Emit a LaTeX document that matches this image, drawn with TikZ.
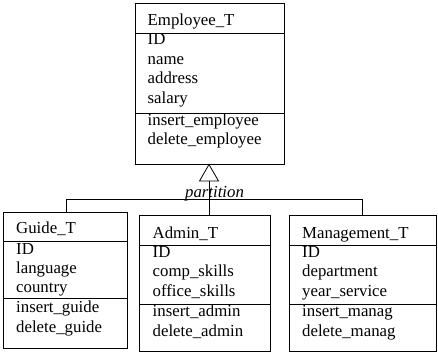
\documentclass[tikz,border=0pt]{standalone}
\usepackage{fontspec}
\setmainfont{Liberation Serif}
\usetikzlibrary{calc}
\begin{document}
\begin{tikzpicture}[x=1pt,y=-1pt,
  box/.style={draw, line width=0.8pt, anchor=north west, inner sep=0pt, outer sep=0pt},
  txt/.style={anchor=base west, inner sep=0pt, font=\fontsize{16.8}{19}\selectfont},
  ln/.style={line width=0.8pt},
  lbl/.style={anchor=base, inner sep=0pt, font=\fontsize{16.8}{19}\selectfont\itshape}]
\useasboundingbox (0,0) rectangle (438,352);

% Employee_T
\node[box, minimum width=149pt, minimum height=161.5pt] (emp) at (135,3) {};
\draw[ln] ($(emp.north west)+(0,30)$) -- ($(emp.north east)+(0,30)$);
\draw[ln] ($(emp.north west)+(0,110)$) -- ($(emp.north east)+(0,110)$);
\node[txt] (e0) at (147.5,25.5) {Employee\_T};
\node[txt] (e1) at (147.5,45) {ID};
\node[txt] (e2) at (147.5,64.5) {name};
\node[txt] (e3) at (147.5,84) {address};
\node[txt] (e4) at (147.5,103.5) {salary};
\node[txt] (e5) at (147.5,125.5) {insert\_employee};
\node[txt] (e6) at (147.5,145) {delete\_employee};

% Guide_T
\node[box, minimum width=124pt, minimum height=136pt] (gd) at (3,212) {};
\draw[ln] ($(gd.north west)+(0,29)$) -- ($(gd.north east)+(0,29)$);
\draw[ln] ($(gd.north west)+(0,86)$) -- ($(gd.north east)+(0,86)$);
\node[txt] (g0) at (16,233.5) {Guide\_T};
\node[txt] (g1) at (16,254) {ID};
\node[txt] (g2) at (16,273) {language};
\node[txt] (g3) at (16,292.5) {country};
\node[txt] (g4) at (16,312.5) {insert\_guide};
\node[txt] (g5) at (16,332) {delete\_guide};

% Admin_T
\node[box, minimum width=131pt, minimum height=136pt] (adm) at (139,215) {};
\draw[ln] ($(adm.north west)+(0,30)$) -- ($(adm.north east)+(0,30)$);
\draw[ln] ($(adm.north west)+(0,89)$) -- ($(adm.north east)+(0,89)$);
\node[txt] (a0) at (152.5,238) {Admin\_T};
\node[txt] (a1) at (152.5,257) {ID};
\node[txt] (a2) at (152.5,276.5) {comp\_skills};
\node[txt] (a3) at (152.5,296) {office\_skills};
\node[txt] (a4) at (152.5,316.5) {insert\_admin};
\node[txt] (a5) at (152.5,336) {delete\_admin};

% Management_T
\node[box, minimum width=147.5pt, minimum height=136pt] (mg) at (289,215) {};
\draw[ln] ($(mg.north west)+(0,30)$) -- ($(mg.north east)+(0,30)$);
\draw[ln] ($(mg.north west)+(0,89)$) -- ($(mg.north east)+(0,89)$);
\node[txt] (m0) at (302,238) {Management\_T};
\node[txt] (m1) at (302,257) {ID};
\node[txt] (m2) at (302,276.5) {department};
\node[txt] (m3) at (302,296) {year\_service};
\node[txt] (m4) at (302,316.5) {insert\_manag};
\node[txt] (m5) at (302,336) {delete\_manag};

% generalization
\coordinate (apex) at (209,164.5);
\coordinate (tbase) at (209,181);
\coordinate (bar) at (209,199.3);
\draw[ln] (apex) -- ($(tbase)+(-9.5,0)$) -- ($(tbase)+(9.5,0)$) -- cycle;
\draw[ln] (tbase) -- (tbase |- adm.north);
\draw[ln] (gd.north -| 66,0) |- (bar) -| (mg.north);
\node[lbl] (part) at (214.5,197.5) {partition};
\end{tikzpicture}
\end{document}
